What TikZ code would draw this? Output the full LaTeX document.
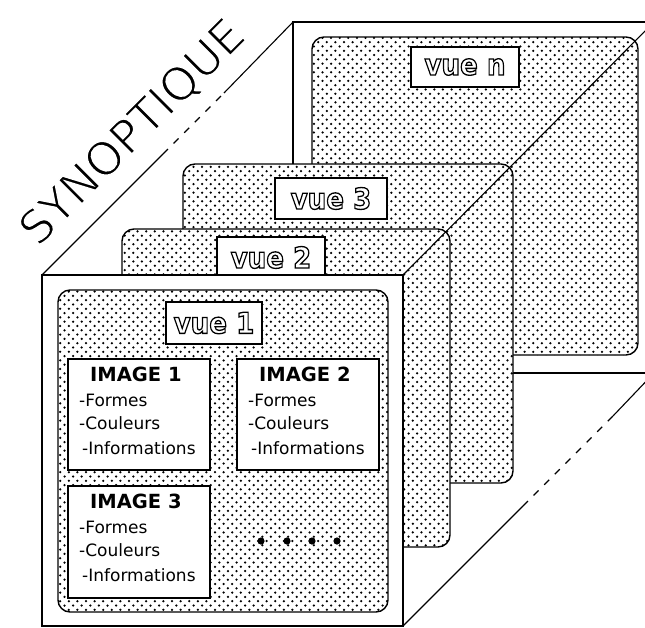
\documentclass[tikz,border=0pt]{standalone}
\usepackage{fontspec}
\setmainfont{DejaVu Sans}
\usepackage{graphicx}
\usetikzlibrary{patterns}

% coarse staggered dot screen used for the view cards
\pgfdeclarepatternformonly{macdots}{\pgfqpoint{-1.5pt}{-1.5pt}}{\pgfqpoint{7pt}{7pt}}{\pgfqpoint{8.6pt}{8.6pt}}{%
  \pgfpathcircle{\pgfqpoint{0pt}{0pt}}{1.25pt}%
  \pgfpathcircle{\pgfqpoint{4.3pt}{4.3pt}}{1.25pt}%
  \pgfusepath{fill}}

% hollow (stroked only) lettering for the view titles
\newcommand{\vuetext}[1]{\scalebox{0.9}[1]{\special{pdf:literal direct 1 Tr 1.3 w}#1\special{pdf:literal direct 0 Tr}}}
% thin lettering: glyphs filled black, their edges trimmed by a white stroke
\newcommand{\thintext}[1]{\special{pdf:literal direct 2 Tr 1.5 w 1 G}#1\special{pdf:literal direct 0 Tr 0 G}}

\begin{document}
\begin{tikzpicture}[x=1pt, y=-1pt,
  frame/.style={draw, line width=1.6pt, fill=white},
  card/.style={draw, line width=1.4pt, rounded corners=12pt, preaction={fill=white}, pattern=macdots, pattern color=black},
  edge/.style={line width=1.1pt},
  hidden/.style={line width=1.1pt, dash pattern=on 7pt off 8pt},
  vuebox/.style={draw, line width=1.8pt, fill=white, inner sep=0pt, font=\fontsize{29}{30}\selectfont\bfseries},
  imgbox/.style={draw, line width=1.8pt, fill=white, inner sep=0pt, minimum width=142pt, minimum height=111pt, anchor=north west},
  imgtitle/.style={anchor=base, inner sep=0pt, font=\fontsize{19.5}{20}\selectfont\bfseries},
  imgitem/.style={anchor=base west, inner sep=0pt, font=\fontsize{17}{18}\selectfont},
  blob/.style={fill=black},
  title/.style={rotate=45, anchor=base, inner sep=0pt, font=\fontsize{46}{46}\selectfont},
]
\clip (0,0) rectangle (645,627);

% corners of the front and back faces of the block
\coordinate (ftl) at (42,275);
\coordinate (ftr) at (403,275);
\coordinate (fbr) at (403,626);
\coordinate (btl) at (293,22);
\coordinate (btr) at (654,22);
\coordinate (bbr) at (654,373);
% where the receding edges turn dashed
\coordinate (tla) at (163,154);
\coordinate (tlb) at (224,93);
\coordinate (bra) at (523,506);
\coordinate (brb) at (613,416);

% back face
\path[frame] (btl) rectangle (bbr);

% receding edges on the left and at the bottom
\draw[edge] (ftl) -- (tla);
\draw[hidden] (tla) -- (tlb);
\draw[edge] (tlb) -- (btl);
\draw[edge] (fbr) -- (bra);
\draw[hidden] (bra) -- (brb);
\draw[edge] (brb) -- (bbr);

% stacked views, back to front
\path[card] (312,37) rectangle (638,355);
\node[vuebox, minimum width=108pt, minimum height=40pt] (vn) at (465,67) {\vuetext{vue n}};
\path[card] (183,164) rectangle (513,483);
\node[vuebox, minimum width=112pt, minimum height=41pt] (v3) at (331,198.5) {\vuetext{vue 3}};
\path[card] (122,229) rectangle (450,547);
\node[vuebox, minimum width=108pt, minimum height=41pt] (v2) at (271,257.5) {\vuetext{vue 2}};

% top right receding edge, over the cards
\draw[edge] (ftr) -- (btr);

% front face with the first view
\path[frame] (ftl) rectangle (fbr);
\path[card] (58,290) rectangle (388,612);
\node[vuebox, minimum width=96pt, minimum height=42pt] (v1) at (214,323) {\vuetext{vue 1}};

% image panels
\node[imgbox] (img1) at (67,358) {};
\node[imgbox] (img2) at (236,358) {};
\node[imgbox, minimum height=112pt] (img3) at (67,485) {};

\foreach \b/\n in {img1/1, img2/2, img3/3} {
  \node[imgtitle] (\b-t) at ([shift={(-3,23)}]\b.north) {IMAGE \n};
  \node[imgitem] (\b-f) at ([shift={(12,48)}]\b.north west) {-Formes};
  \node[imgitem] (\b-c) at ([shift={(12,71)}]\b.north west) {-Couleurs};
  \node[imgitem] (\b-i) at ([shift={(15,96)}]\b.north west) {-Informations};
}

% ellipsis for further images
\foreach \x in {261,287,312,337} \fill[blob] (\x,541) circle (3.6pt);

% title along the upper left edge
\node[title] (syn) at (143,143) {\thintext{SYNOPTIQUE}};
\end{tikzpicture}
\end{document}
